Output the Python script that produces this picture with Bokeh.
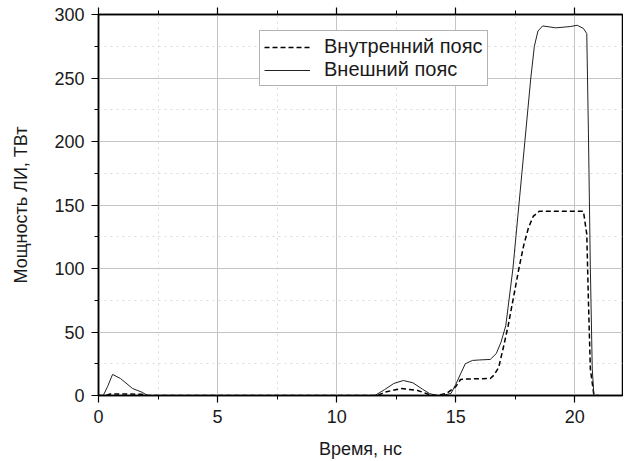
from bokeh.plotting import figure
from bokeh.models import Range1d, FixedTicker, LinearAxis
from bokeh.embed import file_html
from bokeh.resources import INLINE

# Data (time in ns, power in TW)
t_inner = [0, 0.3, 0.5, 1.0, 1.8, 2.1, 11.7, 12.1, 12.7, 13.4, 13.85, 14.2, 14.6, 15.0, 15.2,
           15.5, 16.45, 16.6, 16.8, 17.0, 17.2, 17.45, 17.65, 17.85, 18.05, 18.25, 18.5,
           19.5, 20.36, 20.5, 20.57, 20.65, 20.8, 21.0]
p_inner = [0, 0, 1.2, 1.2, 1.0, 0, 0, 3, 5.5, 4, 1, 0, 1.5, 7, 12.6,
           13, 13.4, 16, 22, 38, 55, 80, 100, 118, 132, 141, 145,
           145, 145, 127, 74, 21, 0, 0]

t_outer = [0, 0.2, 0.38, 0.59, 0.92, 1.43, 1.85, 2.05, 11.6, 12.0, 12.4, 12.8, 13.2, 13.6,
           13.9, 14.2, 14.5, 14.8, 15.0, 15.2, 15.4, 15.7, 16.0, 16.45, 16.7, 16.9, 17.1,
           17.4, 17.65, 17.9, 18.15, 18.3, 18.45, 18.65, 19.2, 19.8, 20.1, 20.36, 20.5,
           20.57, 20.65, 20.73, 20.8, 21.0]
p_outer = [0, 0, 7, 16.6, 13.4, 5.5, 2.4, 0, 0, 4.5, 9.5, 11.8, 10, 5,
           1.5, 0, 0.3, 1.6, 8.7, 17, 25, 27.6, 28, 28.4, 33, 42, 55,
           100, 150, 200, 250, 275, 287, 291, 289.5, 290.5, 291.5, 289, 285,
           206, 100, 21, 0, 0]

x_major = [0, 5, 10, 15, 20]
x_minor = [2.5, 7.5, 12.5, 17.5]
y_major = [0, 50, 100, 150, 200, 250, 300]
y_minor = [25, 75, 125, 175, 225, 275]

label_inner = "Внутренний пояс"
label_outer = "Внешний пояс"
x_title = "Время, нс"
y_title = "Мощность ЛИ, ТВт"

FONT = "Liberation Sans"
TXT = "#1a1a1a"

p = figure(width=623, height=461, output_backend="svg", toolbar_location=None,
           x_range=Range1d(0, 22), y_range=Range1d(0, 300),
           min_border_left=98, min_border_right=1, min_border_top=14, min_border_bottom=10)

p.background_fill_color = "white"
p.border_fill_color = "white"
p.outline_line_color = "black"
p.outline_line_width = 1.5

xt = FixedTicker(ticks=x_major, minor_ticks=x_minor)
yt = FixedTicker(ticks=y_major, minor_ticks=y_minor)

p.xaxis.ticker = xt
p.yaxis.ticker = yt
p.xgrid.ticker = xt
p.ygrid.ticker = yt

for g in (p.xgrid, p.ygrid):
    g.grid_line_color = "#c4c4c4"
    g.grid_line_width = 1
    g.minor_grid_line_color = "#dadada"
    g.minor_grid_line_dash = "2 4"
    g.minor_grid_line_width = 1

for ax in (p.xaxis, p.yaxis):
    ax.axis_line_color = "black"
    ax.axis_line_width = 1.5
    ax.major_tick_line_color = "black"
    ax.minor_tick_line_color = "black"
    ax.major_tick_line_width = 1.2
    ax.major_tick_in = 0
    ax.major_tick_out = 7
    ax.minor_tick_in = 0
    ax.minor_tick_out = 4
    ax.major_label_text_font = FONT
    ax.major_label_text_font_size = "18px"
    ax.major_label_text_color = TXT
    ax.axis_label_text_font = FONT
    ax.axis_label_text_font_size = "18px"
    ax.axis_label_text_font_style = "normal"
    ax.axis_label_text_color = TXT

p.xaxis.axis_label = x_title
p.yaxis.axis_label = y_title
p.xaxis.major_label_standoff = 7
p.xaxis.axis_label_standoff = 13
p.yaxis.major_label_standoff = 7
p.yaxis.axis_label_standoff = 20

top = LinearAxis(ticker=xt)
top.axis_line_color = "black"
top.axis_line_width = 1.5
top.major_tick_line_color = "black"
top.minor_tick_line_color = "black"
top.major_tick_in = 0
top.major_tick_out = 7
top.minor_tick_in = 0
top.minor_tick_out = 4
top.major_tick_line_width = 1.2
top.major_label_text_font_size = "1px"
top.major_label_text_color = None
top.major_label_standoff = 0
p.add_layout(top, "above")

p.line(t_inner, p_inner, line_color="black", line_width=1.5, line_dash="5 3",
       legend_label=label_inner)
p.line(t_outer, p_outer, line_color="#222222", line_width=1,
       legend_label=label_outer)

lg = p.legend[0]
lg.location = (161, 309)
lg.border_line_color = "#666666"
lg.border_line_width = 1
lg.background_fill_color = "white"
lg.background_fill_alpha = 1
lg.label_text_font = FONT
lg.label_text_font_size = "20px"
lg.label_text_color = TXT
lg.padding = 4
lg.spacing = 0
lg.margin = 0
lg.glyph_width = 46
lg.glyph_height = 20
lg.label_height = 20
lg.label_standoff = 14

open("out.html", "w").write(file_html(p, INLINE))
